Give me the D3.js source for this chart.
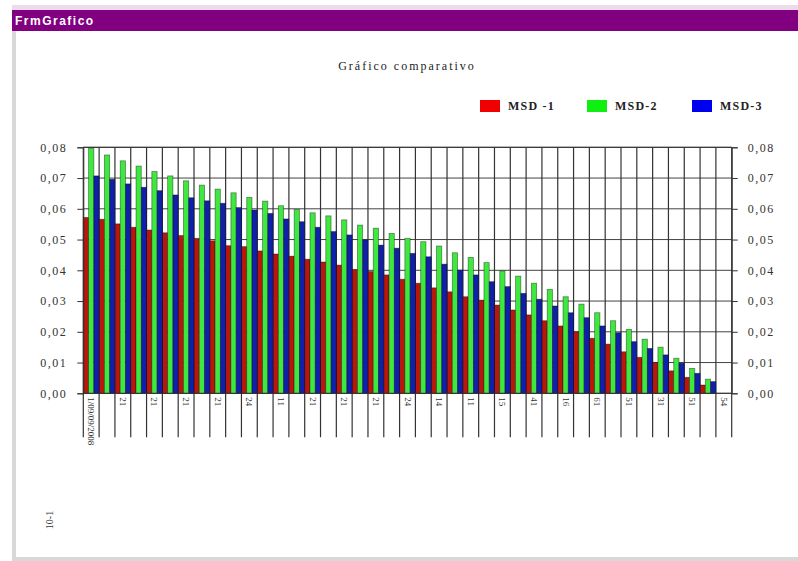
<!DOCTYPE html>
<html><head><meta charset="utf-8">
<script src="https://cdn.jsdelivr.net/npm/d3@7"></script>
<style>body{margin:0;background:#fff;}svg{display:block;}</style>
</head><body>
<svg id="c" width="798" height="561"></svg>
<script>
const seriesNames = ["MSD -1", "MSD-2", "MSD-3"];
const seriesColors = ["#b8180c", "#3ee83e", "#1020a8"];
const legendColors = ["#f00000", "#10f010", "#0000f0"];
const msd1 = [0.0572,0.0566,0.0551,0.0540,0.0531,0.0522,0.0513,0.0504,0.0496,0.0480,0.0477,0.0463,0.0453,0.0446,0.0436,0.0427,0.0417,0.0403,0.0396,0.0385,0.0371,0.0358,0.0343,0.0330,0.0314,0.0303,0.0287,0.0271,0.0255,0.0236,0.0219,0.0200,0.0179,0.0160,0.0135,0.0117,0.0100,0.0073,0.0052,0.0027,0];
const msd2 = [0.0797,0.0775,0.0756,0.0739,0.0721,0.0707,0.0691,0.0677,0.0664,0.0652,0.0637,0.0625,0.0610,0.0598,0.0587,0.0577,0.0564,0.0547,0.0537,0.0520,0.0504,0.0493,0.0479,0.0457,0.0442,0.0425,0.0398,0.0381,0.0358,0.0338,0.0314,0.0290,0.0262,0.0236,0.0208,0.0176,0.0150,0.0114,0.0081,0.0046,0];
const msd3 = [0.0707,0.0696,0.0681,0.0670,0.0659,0.0645,0.0636,0.0626,0.0618,0.0604,0.0596,0.0585,0.0567,0.0558,0.0540,0.0526,0.0515,0.0499,0.0482,0.0472,0.0455,0.0444,0.0420,0.0401,0.0385,0.0363,0.0347,0.0325,0.0306,0.0284,0.0262,0.0246,0.0219,0.0197,0.0168,0.0146,0.0125,0.0098,0.0065,0.0038,0];
const tickLabels = ["1/09/09/2008","21","21","21","21","24","11","21","21","21","24","14","11","15","41","16","61","51","31","51","54"];
const yTicks = [0,0.01,0.02,0.03,0.04,0.05,0.06,0.07,0.08];
const categories = msd1.map((d,i)=>i);
const series = [msd1, msd2, msd3];

const svg = d3.select("#c");
const serif = "Liberation Serif, Times New Roman";
// window frame
svg.append("rect").attr("x",0).attr("y",0).attr("width",798).attr("height",561).attr("fill","#fff");
svg.append("rect").attr("x",12).attr("y",5).attr("width",786).attr("height",5).attr("fill","#eadcea");
svg.append("rect").attr("x",12).attr("y",10).attr("width",786).attr("height",21).attr("fill","#800080");
svg.append("text").attr("x",15).attr("y",25).text("FrmGrafico")
  .attr("font-family","Liberation Sans, Arial").attr("font-size",12).attr("font-weight","bold")
  .attr("letter-spacing",1.5).attr("fill","#fff");
svg.append("rect").attr("x",12).attr("y",31).attr("width",4).attr("height",528).attr("fill","#d8d8d8");
svg.append("rect").attr("x",12).attr("y",557).attr("width",786).attr("height",4).attr("fill","#d8d8d8");

const L = 83.3, R = 731.7, T = 147.3, B = 393.3;
const x = d3.scaleBand().domain(categories).range([L, R]).padding(0);
const xs = d3.scaleBand().domain(d3.range(series.length)).range([0, x.bandwidth()]).padding(0);
const y = d3.scaleLinear().domain([0, 0.08]).range([B, T]);
const fmt = v => d3.format(".2f")(v).replace(".", ",");

// title
svg.append("text").attr("x",407).attr("y",70).attr("text-anchor","middle").text("Gráfico comparativo")
  .attr("font-family",serif).attr("font-size",12).attr("letter-spacing",2).attr("fill","#222");

// legend
const legX = [480, 587, 692];
seriesNames.forEach((n,i)=>{
  svg.append("rect").attr("x",legX[i]).attr("y",100).attr("width",20).attr("height",12).attr("fill",legendColors[i]);
  svg.append("text").attr("x",legX[i]+28).attr("y",110).text(n)
    .attr("font-family",serif).attr("font-size",12).attr("font-weight","bold")
    .attr("letter-spacing",1.2).attr("fill","#222");
});

// grid
const g = svg.append("g");
yTicks.forEach(t=>{
  g.append("line").attr("x1",L).attr("x2",R).attr("y1",y(t)).attr("y2",y(t)).attr("stroke","#444").attr("stroke-width",1);
});
const bounds = categories.map(c=>x(c)).concat([R]);
bounds.forEach(bx=>{
  g.append("line").attr("x1",bx).attr("x2",bx).attr("y1",T).attr("y2",B+44).attr("stroke","#333").attr("stroke-width",1.2);
});

// bars
series.forEach((s,si)=>{
  svg.append("g").selectAll("rect").data(s).join("rect")
    .attr("x",(d,i)=>x(categories[i]) + xs(si))
    .attr("y",d=>y(d))
    .attr("width",xs.bandwidth())
    .attr("height",d=>B - y(d))
    .attr("fill",seriesColors[si])
    .attr("stroke","#000").attr("stroke-opacity",0.45).attr("stroke-width",0.8);
});

// axes
const leftAxis = d3.axisLeft(y).tickValues(yTicks).tickFormat(fmt).tickSize(6).tickPadding(10);
const rightAxis = d3.axisRight(y).tickValues(yTicks).tickFormat(fmt).tickSize(6).tickPadding(10);
const la = svg.append("g").attr("transform",`translate(${L},0)`).call(leftAxis);
const ra = svg.append("g").attr("transform",`translate(${R},0)`).call(rightAxis);
[la, ra].forEach(a=>{
  a.select(".domain").attr("stroke","#333");
  a.selectAll(".tick line").attr("stroke","#333");
  a.selectAll("text").attr("font-family",serif).attr("font-size",12).attr("letter-spacing",1.5).attr("fill","#333");
});
svg.append("line").attr("x1",L).attr("x2",R).attr("y1",B).attr("y2",B).attr("stroke","#333");
svg.append("line").attr("x1",L).attr("x2",R).attr("y1",T).attr("y2",T).attr("stroke","#333");

// x labels (every other category)
tickLabels.forEach((lab,k)=>{
  const c = categories[k*2];
  const cx = x(c) + x.bandwidth()/2;
  svg.append("text").attr("transform",`translate(${cx-3},${B+4}) rotate(90)`)
    .text(lab).attr("font-family",serif).attr("font-size",9).attr("fill","#333");
});

// axis caption bottom-left
svg.append("text").attr("transform","translate(53,520) rotate(-90)").attr("text-anchor","middle")
  .text("10-1").attr("font-family",serif).attr("font-size",10).attr("fill","#333");
</script>
</body></html>
